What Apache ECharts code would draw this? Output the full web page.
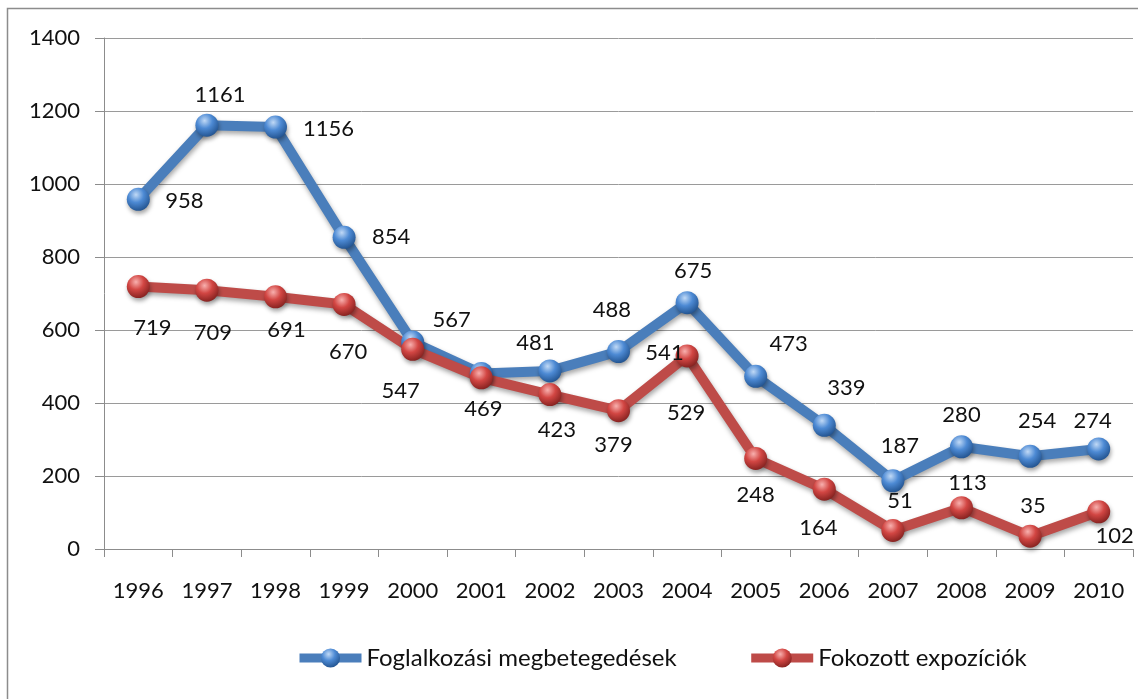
<!DOCTYPE html>
<html>
<head>
	<meta charset="utf-8">
	<title>Foglalkozási megbetegedések és fokozott expozíciók</title>
	<script src="https://cdn.jsdelivr.net/npm/echarts@6/dist/echarts.min.js"></script>
	<style>
		* { margin: 0; padding: 0; }
		body { background: #fff; }
		#main { width: 1138px; height: 699px; }
	</style>
</head>
<body>
	<div id="main"></div>
	<script type="text/javascript">
		// adatok
		var years = ['1996', '1997', '1998', '1999', '2000', '2001', '2002', '2003',
			'2004', '2005', '2006', '2007', '2008', '2009', '2010'];
		var megbetegedesek = [958, 1161, 1156, 854, 567, 481, 488, 541, 675, 473, 339, 187, 280, 254, 274];
		var expoziciok = [719, 709, 691, 670, 547, 469, 423, 379, 529, 248, 164, 51, 113, 35, 102];
		var seriesNames = ['Foglalkozási megbetegedések', 'Fokozott expozíciók'];

		// címkék eltolása a pont közepétől (px)
		var blueOffsets = [[46, 2], [13, -30], [53, 2], [47, 0], [39, -22], [54, -31], [62, -61], [46, 1],
			[6, -32], [33, -32], [22, -37], [7, -35], [0, -32], [7, -35], [-6, -28]];
		var redOffsets = [[14, 41], [6, 43], [11, 33], [4, 47], [-12, 42], [2, 31], [7, 35], [-5, 34],
			[-1, 57], [0, 36], [-6, 39], [7, -29], [6, -25], [3, -30], [16, 24]];

		var font = 'Lato';

		function sphere(light, mid, dark) {
			return new echarts.graphic.RadialGradient(0.4, 0.3, 0.75, [
				{ offset: 0, color: light },
				{ offset: 0.45, color: mid },
				{ offset: 1, color: dark }
			]);
		}

		function withLabels(values, offsets) {
			var out = [];
			for (var i = 0; i < values.length; i++) {
				out.push({ value: values[i], label: { offset: offsets[i] } });
			}
			return out;
		}

		function lineSeries(name, values, offsets, lineColor, ball) {
			return {
				name: name,
				type: 'line',
				data: withLabels(values, offsets),
				symbol: 'circle',
				symbolSize: 23,
				lineStyle: {
					color: lineColor,
					width: 10,
					shadowColor: 'rgba(0,0,0,0.35)',
					shadowBlur: 5,
					shadowOffsetX: 1,
					shadowOffsetY: 3
				},
				itemStyle: {
					color: ball,
					borderWidth: 0,
					shadowColor: 'rgba(0,0,0,0.35)',
					shadowBlur: 4,
					shadowOffsetX: 1,
					shadowOffsetY: 3
				},
				label: {
					show: true,
					position: 'inside',
					align: 'center',
					verticalAlign: 'middle',
					fontFamily: font,
					fontSize: 22,
					color: '#111'
				},
				emphasis: { disabled: true },
				animation: false
			};
		}

		var myChart = echarts.init(document.getElementById('main'));
		var option = {
			backgroundColor: '#fff',
			animation: false,
			graphic: [{
				type: 'rect',
				silent: true,
				z: -1,
				shape: { x: 7.5, y: 8.5, width: 1300, height: 900 },
				style: { fill: 'none', stroke: '#8c8c8c', lineWidth: 1.5 }
			}],
			grid: {
				left: 104,
				right: 5,
				top: 38,
				bottom: 150,
				containLabel: false,
				outerBoundsMode: 'none'
			},
			legend: {
				data: seriesNames,
				left: 295,
				top: 646,
				padding: 0,
				itemWidth: 62,
				itemHeight: 24,
				itemGap: 70,
				lineStyle: { width: 9 },
				itemStyle: { shadowBlur: 0 },
				textStyle: { fontFamily: font, fontSize: 24, color: '#111' }
			},
			xAxis: {
				type: 'category',
				data: years,
				boundaryGap: true,
				axisLine: { lineStyle: { color: '#8c8c8c', width: 1 } },
				axisTick: { show: true, length: 8, interval: 0, lineStyle: { color: '#8c8c8c' } },
				axisLabel: { interval: 0, margin: 31, fontFamily: font, fontSize: 22, color: '#111' },
				splitLine: { show: false }
			},
			yAxis: {
				type: 'value',
				min: 0,
				max: 1400,
				interval: 200,
				axisLine: { show: true, lineStyle: { color: '#8c8c8c', width: 1 } },
				axisTick: { show: true, length: 9, lineStyle: { color: '#8c8c8c' } },
				axisLabel: {
					margin: 24, fontFamily: font, fontSize: 22, color: '#111',
					formatter: function (v) { return String(v); }
				},
				splitLine: { show: true, lineStyle: { color: '#9a9a9a', width: 1 } }
			},
			series: [
				lineSeries(seriesNames[0], megbetegedesek, blueOffsets, '#4a7ebb',
					sphere('#c0d9f6', '#4d8ad4', '#1f4f8a')),
				lineSeries(seriesNames[1], expoziciok, redOffsets, '#be4b48',
					sphere('#f8b0ae', '#d24643', '#7f1f1d'))
			]
		};
		myChart.setOption(option);
	</script>
</body>
</html>
